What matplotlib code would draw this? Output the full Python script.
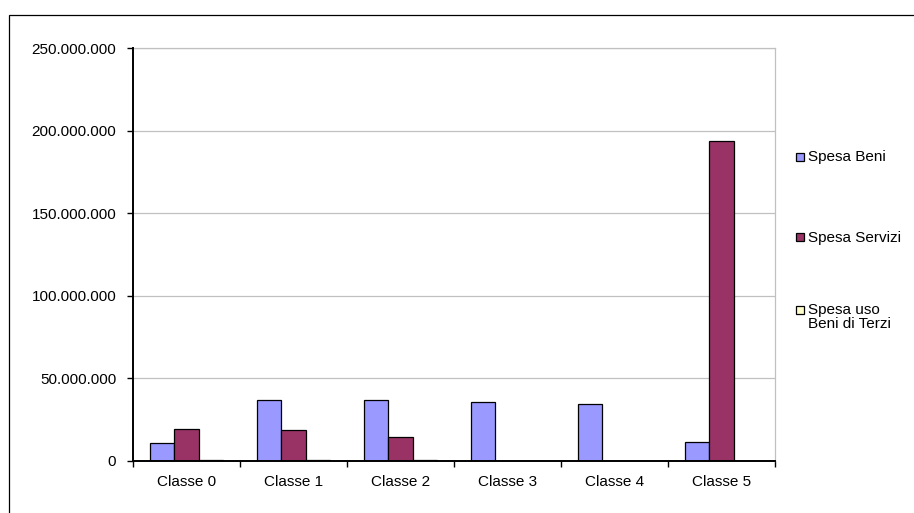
#!/usr/bin/env python3
"""Spesa per classe: barre raggruppate (Beni, Servizi, uso Beni di Terzi)."""

import matplotlib

matplotlib.use("Agg")
import matplotlib.pyplot as plt
from matplotlib.patches import Rectangle
from matplotlib.ticker import FuncFormatter, MultipleLocator
import numpy as np

plt.rcParams["font.family"] = ["Liberation Sans", "DejaVu Sans"]

classes = ["Classe 0", "Classe 1", "Classe 2", "Classe 3", "Classe 4", "Classe 5"]
spesa_beni = [11_100_000, 36_900_000, 36_900_000, 35_900_000, 34_600_000, 11_300_000]
spesa_servizi = [19_400_000, 18_800_000, 14_300_000, 0, 0, 193_500_000]
spesa_terzi = [500_000, 500_000, 500_000, 0, 0, 0]

series_names = ["Spesa Beni", "Spesa Servizi", "Spesa uso", "Beni di Terzi"]
series_colors = ["#9999FF", "#993366", "#FFFFCC"]


def fmt_dots(v, _pos):
    return f"{int(round(v)):,}".replace(",", ".")


fig = plt.figure(figsize=(9.14, 5.13), dpi=100)
ax = fig.add_axes([133 / 914, 1 - 461 / 513, (775 - 133) / 914, (461 - 48) / 513])

# outer chart border (cut by the image on the right and bottom)
fig.patches.append(Rectangle((9 / 914, -0.1), 1.2, 1 - 15 / 513 + 0.1,
                             transform=fig.transFigure, fill=False,
                             edgecolor="black", linewidth=0.9))

x = np.arange(len(classes))
w = 0.225
for i, (vals, col) in enumerate(zip([spesa_beni, spesa_servizi, spesa_terzi], series_colors)):
    ax.bar(x + (i - 1) * w, vals, width=w, color=col, edgecolor="black",
           linewidth=0.9, zorder=3)

ax.set_xlim(-0.5, len(classes) - 0.5)
ax.set_ylim(0, 250_000_000)
ax.yaxis.set_major_locator(MultipleLocator(50_000_000))
ax.yaxis.set_major_formatter(FuncFormatter(fmt_dots))
ax.grid(axis="y", color="#c0c0c0", linewidth=0.9, zorder=0)

ax.set_xticks(x)
ax.set_xticklabels(classes)
ax.set_xticks(np.arange(len(classes) + 1) - 0.5, minor=True)
ax.tick_params(axis="x", which="major", length=0, pad=10, labelsize=11)
ax.tick_params(axis="x", which="minor", length=4, width=1, direction="out")
ax.tick_params(axis="y", length=4, width=1, pad=8, labelsize=11)

for side in ("top", "right"):
    ax.spines[side].set_color("#c0c0c0")
    ax.spines[side].set_linewidth(0.9)
for side in ("left", "bottom"):
    ax.spines[side].set_linewidth(1.4)
    ax.spines[side].set_zorder(4)

# legend, drawn by hand so the box sits on the first text line
legend_y = [156.5, 237, 309.5]
for col, yy in zip(series_colors, legend_y):
    fig.patches.append(Rectangle((796 / 914, 1 - (yy + 4) / 513), 8 / 914, 8 / 513,
                                 transform=fig.transFigure, facecolor=col,
                                 edgecolor="black", linewidth=0.9))
# text baselines: first line centred on the box, continuation 14 px lower
text_y = [legend_y[0], legend_y[1], legend_y[2], legend_y[2] + 14]
for name, yy in zip(series_names, text_y):
    fig.text(808 / 914, 1 - (yy + 4.5) / 513, name, fontsize=11,
             va="baseline", ha="left")

fig.savefig("out.png", dpi=100)
